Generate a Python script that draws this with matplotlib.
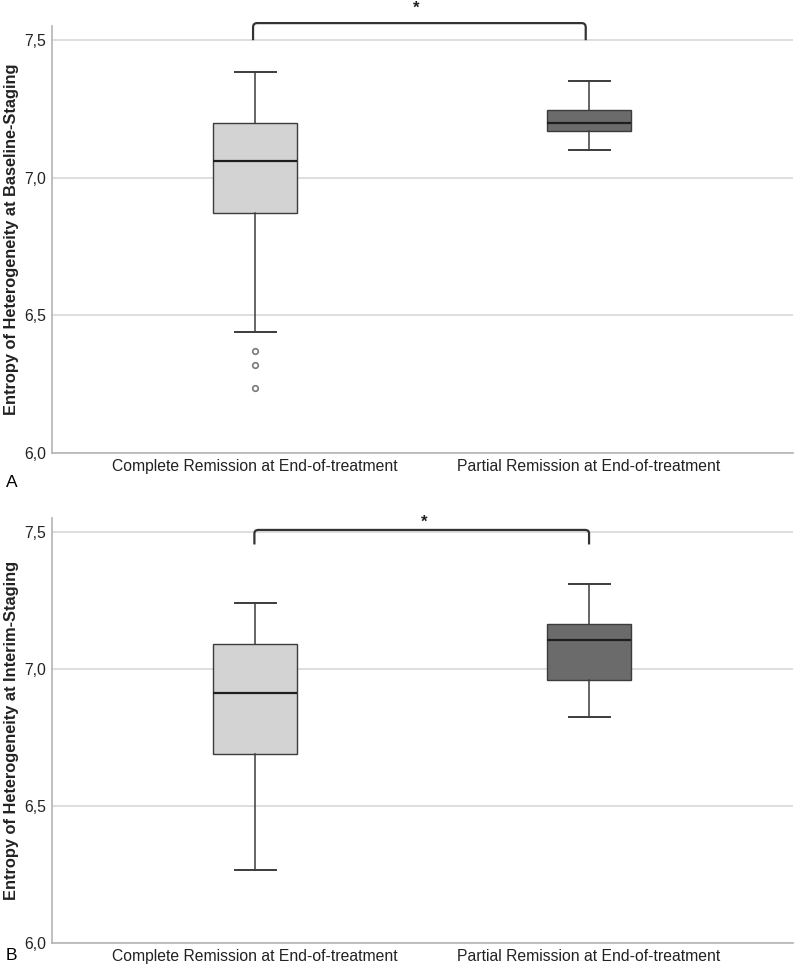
import matplotlib
matplotlib.use("Agg")
import matplotlib.pyplot as plt
from matplotlib.path import Path
from matplotlib.patches import PathPatch
from matplotlib.ticker import FuncFormatter

plt.rcParams['font.family'] = ['Liberation Sans', 'DejaVu Sans']

# Groups (x categories)
groups = ["Complete Remission at End-of-treatment", "Partial Remission at End-of-treatment"]

# Panel A: baseline staging (whisker_low, q1, median, q3, whisker_high)
base_low = [6.438, 7.101]
base_q1 = [6.872, 7.170]
base_med = [7.060, 7.198]
base_q3 = [7.200, 7.247]
base_high = [7.384, 7.351]
base_outliers = [[6.372, 6.321, 6.237], []]

# Panel B: interim staging
interim_low = [6.268, 6.823]
interim_q1 = [6.690, 6.961]
interim_med = [6.912, 7.104]
interim_q3 = [7.090, 7.165]
interim_high = [7.242, 7.311]
interim_outliers = [[], []]

ylabels = ["Entropy of Heterogeneity at Baseline-Staging",
           "Entropy of Heterogeneity at Interim-Staging"]
panel_tags = ["A", "B"]

box_colors = ["#d3d3d3", "#6b6b6b"]
edge = "#3c3c3c"


def comma_fmt(v, pos):
    return f"{v:.1f}".replace(".", ",")


def draw_bracket(ax, x0, x1, y_top, y_leg, star_x, star_y):
    rx = 0.012
    ry = (y_top - y_leg) * 0.25
    verts = [(x0, y_leg), (x0, y_top - ry), (x0, y_top), (x0 + rx, y_top),
             (x1 - rx, y_top), (x1, y_top), (x1, y_top - ry), (x1, y_leg)]
    codes = [Path.MOVETO, Path.LINETO, Path.CURVE3, Path.CURVE3,
             Path.LINETO, Path.CURVE3, Path.CURVE3, Path.LINETO]
    patch = PathPatch(Path(verts, codes), facecolor="none", edgecolor="#333333",
                      lw=1.6, clip_on=False, capstyle="butt")
    ax.add_patch(patch)
    ax.text(star_x, star_y, "*", ha="center", va="center", fontsize=12,
            fontweight="bold", color="#222222", clip_on=False)


def draw_panel(ax, low, q1, med, q3, high, outl, ylabel):
    stats = []
    for i in range(len(groups)):
        stats.append({"whislo": low[i], "q1": q1[i], "med": med[i], "q3": q3[i],
                      "whishi": high[i], "fliers": outl[i], "label": groups[i]})
    ax.set_axisbelow(True)
    bp = ax.bxp(stats, positions=[1, 2], widths=0.25, capwidths=0.123,
                patch_artist=True, showfliers=True,
                boxprops=dict(edgecolor=edge, linewidth=1.0),
                medianprops=dict(color="#1e1e1e", linewidth=1.6),
                whiskerprops=dict(color=edge, linewidth=1.1),
                capprops=dict(color=edge, linewidth=1.4),
                flierprops=dict(marker="o", markersize=4, markerfacecolor="white",
                                markeredgecolor="#7a7a7a", markeredgewidth=1.2,
                                linestyle="none"))
    for patch, c in zip(bp["boxes"], box_colors):
        patch.set_facecolor(c)

    ax.set_xlim(0.392, 2.61)
    ax.set_ylim(6.0, 7.551)
    ax.set_yticks([6.0, 6.5, 7.0, 7.5])
    ax.yaxis.set_major_formatter(FuncFormatter(comma_fmt))
    ax.grid(axis="y", color="#d8d8d8", linewidth=1.2)
    for s in ["top", "right"]:
        ax.spines[s].set_visible(False)
    for s in ["left", "bottom"]:
        ax.spines[s].set_color("#b4b4b4")
        ax.spines[s].set_linewidth(1.2)
    ax.tick_params(axis="both", length=0, labelsize=11.3, colors="#222222")
    ax.tick_params(axis="x", pad=4)
    ax.tick_params(axis="y", pad=4)
    ax.set_ylabel(ylabel, fontsize=11.8, fontweight="bold", color="#222222")
    ax.yaxis.set_label_coords(-0.045, 0.5)


fig = plt.figure(figsize=(8, 9.68), dpi=100)
ax_a = fig.add_axes([0.065, 0.532, 0.926, 0.441])
ax_b = fig.add_axes([0.065, 0.0258, 0.926, 0.4392])

draw_panel(ax_a, base_low, base_q1, base_med, base_q3, base_high, base_outliers, ylabels[0])
draw_panel(ax_b, interim_low, interim_q1, interim_med, interim_q3, interim_high,
           interim_outliers, ylabels[1])

draw_bracket(ax_a, 0.994, 1.99, 7.562, 7.50, 1.482, 7.615)
draw_bracket(ax_b, 0.998, 2.0, 7.507, 7.454, 1.506, 7.535)

fig.text(0.0075, 1 - 482 / 968, panel_tags[0], fontsize=12.5, va="center", ha="left")
fig.text(0.0075, 1 - 955 / 968, panel_tags[1], fontsize=12.5, va="center", ha="left")

fig.savefig("out.png", dpi=100)
